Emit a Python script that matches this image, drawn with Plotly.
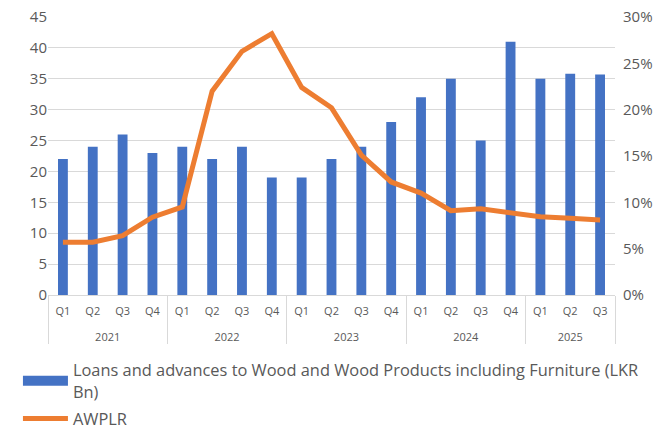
import plotly.graph_objects as go

years = ["2021"]*4 + ["2022"]*4 + ["2023"]*4 + ["2024"]*4 + ["2025"]*3
quarters = ["Q1","Q2","Q3","Q4"]*4 + ["Q1","Q2","Q3"]
loans = [22, 24, 26, 23, 24, 22, 24, 19, 19, 22, 24, 28, 32, 35, 25, 41, 35, 35.8, 35.7]
awplr = [5.7, 5.7, 6.4, 8.4, 9.5, 22.0, 26.3, 28.2, 22.4, 20.2, 15.1, 12.2, 11.0, 9.1, 9.3, 8.9, 8.45, 8.27, 8.1]
awplr_frac = [v/100 for v in awplr]
loans_name = "Loans and advances to Wood and Wood Products including Furniture (LKR<br>Bn)"

font_fam = "Open Sans, Noto Sans, sans-serif"
grey = "#595959"
year_labels = ["<br>" + y for y in years]

fig = go.Figure()
fig.add_trace(go.Bar(
    x=[year_labels, quarters], y=loans,
    name=loans_name, showlegend=False, legendgroup="loans",
    marker=dict(color="#4472C4", line=dict(width=0)),
    width=0.33,
))
# legend swatch for bars (wide rectangle like the reference)
fig.add_trace(go.Scatter(
    x=[[year_labels[0]], [quarters[0]]], y=[None], mode="lines", name=loans_name,
    legendgroup="loans",
    line=dict(color="#4472C4", width=11),
))
fig.add_trace(go.Scatter(
    x=[year_labels, quarters], y=awplr_frac, yaxis="y2",
    name="AWPLR", mode="lines", legendgroup="awplr",
    line=dict(color="#ED7D31", width=5),
))

fig.update_layout(
    width=655, height=433,
    margin=dict(l=48, r=40, t=17, b=138, autoexpand=False),
    plot_bgcolor="white", paper_bgcolor="white",
    font=dict(family=font_fam, color=grey),
    showlegend=True,
    legend=dict(orientation="v", x=-0.053, xanchor="left", y=-0.208, yanchor="top",
                font=dict(size=16.4, color=grey), tracegroupgap=3, itemwidth=45,
                bgcolor="rgba(0,0,0,0)"),
    xaxis=dict(type="multicategory", showline=True, linecolor="#D9D9D9", linewidth=1,
               showdividers=True, dividercolor="#D9D9D9", dividerwidth=1,
               tickfont=dict(size=11, color=grey), ticks="", showgrid=False,
               ticklabelstandoff=6),
    yaxis=dict(range=[0, 45], dtick=5, showgrid=True, gridcolor="#D9D9D9", gridwidth=1,
               zeroline=False, tickfont=dict(size=15, color=grey), ticks=""),
    yaxis2=dict(range=[0, 0.30], dtick=0.05, tickformat=".0%", overlaying="y", side="right",
                showgrid=False, zeroline=False, tickfont=dict(size=15, color=grey),
                ticklabelstandoff=7),
    bargap=0.5,
)

fig.write_html("out.html")
